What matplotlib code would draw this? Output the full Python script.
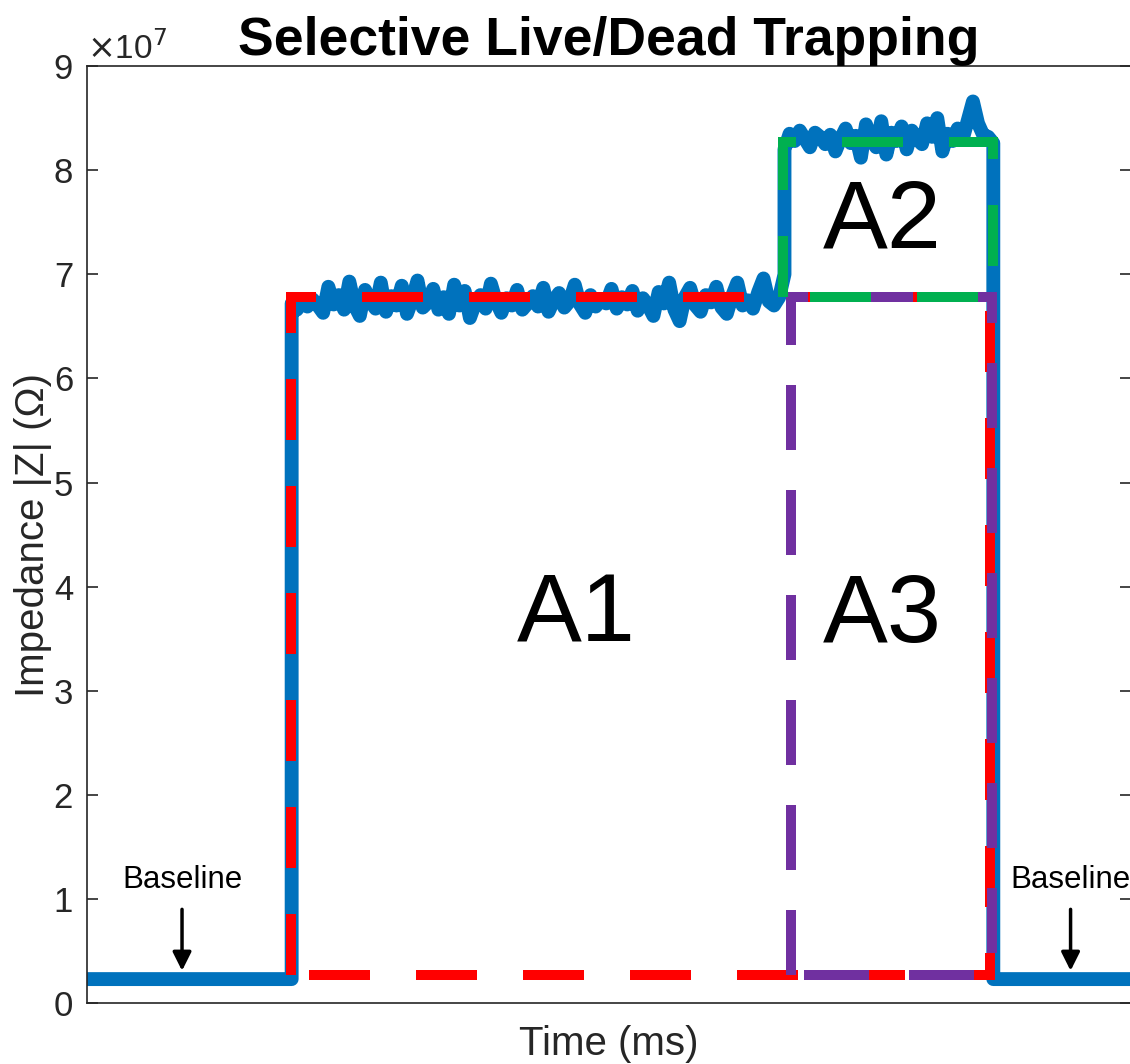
import numpy as np
import matplotlib.pyplot as plt

plt.rcParams['font.family'] = ['Liberation Sans', 'DejaVu Sans']

# impedance in units of 1e7 ohm, time in ms
t_on = 1.96      # cell enters trap
t_step = 6.68    # second cell arrives
t_off = 8.68     # trap released
t_end = 10.0
baseline = 0.23

# sampled |Z| while one cell is trapped
plateau1 = [6.72, 6.66, 6.74, 6.69, 6.76, 6.70, 6.63, 6.88, 6.71, 6.80, 6.66, 6.93,
            6.70, 6.60, 6.85, 6.74, 6.67, 6.92, 6.64, 6.79, 6.70, 6.89, 6.62, 6.76,
            6.94, 6.68, 6.73, 6.86, 6.66, 6.78, 6.62, 6.90, 6.70, 6.84, 6.58, 6.72,
            6.80, 6.67, 6.91, 6.74, 6.63, 6.77, 6.70, 6.85, 6.66, 6.72, 6.79, 6.69,
            6.87, 6.64, 6.75, 6.82, 6.68, 6.74, 6.90, 6.71, 6.63, 6.80, 6.69, 6.76,
            6.72, 6.86, 6.67, 6.78, 6.71, 6.84, 6.65, 6.77, 6.70, 6.60, 6.83, 6.72,
            6.92, 6.66, 6.55, 6.78, 6.87, 6.70, 6.64, 6.80, 6.73, 6.88, 6.68, 6.62,
            6.79, 6.92, 6.70, 6.75, 6.67, 6.83, 6.96, 6.74, 6.70, 6.78, 7.00]
# sampled |Z| with two cells trapped
plateau2 = [8.20, 8.35, 8.28, 8.38, 8.30, 8.22, 8.36, 8.32, 8.25, 8.34, 8.18, 8.30,
            8.40, 8.26, 8.33, 8.12, 8.44, 8.30, 8.22, 8.47, 8.15, 8.36, 8.28, 8.42,
            8.20, 8.38, 8.30, 8.25, 8.45, 8.32, 8.50, 8.18, 8.35, 8.28, 8.40, 8.30,
            8.48, 8.66, 8.45, 8.34, 8.32, 8.26]

# fitted rectangles
a1_x = [1.95, 8.65]
a1_y = [0.27, 6.78]
a3_x = [6.74, 8.67]
a3_y = [0.27, 6.78]
a2_x = [6.67, 8.68]
a2_y = [6.78, 8.27]

x1 = np.linspace(t_on, t_step, len(plateau1))
x2 = np.linspace(t_step, t_off, len(plateau2))
t = np.concatenate([[0, t_on], x1, x2, [t_off, t_end]])
z = np.concatenate([[baseline, baseline], plateau1, plateau2, [baseline, baseline]])

fig = plt.figure(figsize=(11.3, 10.64), dpi=100)
ax = fig.add_axes([0.077, 0.0573, 0.924, 0.8806])

ax.plot(t, z, color='#0072BD', lw=10, solid_joinstyle='round', solid_capstyle='round')


def rect(xs, ys, color, dashes):
    x0, x1 = xs
    y0, y1 = ys
    ax.plot([x0, x0, x1, x1, x0], [y0, y1, y1, y0, y0], color=color, lw=7.2,
            dashes=dashes, dash_capstyle='butt', dash_joinstyle='miter')


rect(a1_x, a1_y, '#FF0000', (6.1, 4.6))
rect(a3_x, a3_y, '#7030A0', (6.5, 4.0))
rect(a2_x, a2_y, '#00B050', (6.1, 4.6))

ax.text(4.69, 3.71, 'A1', fontsize=70, ha='center', va='center')
ax.text(7.62, 3.71, 'A3', fontsize=70, ha='center', va='center')
ax.text(7.62, 7.50, 'A2', fontsize=70, ha='center', va='center')

for xb in [0.91, 9.42]:
    ax.annotate('', xy=(xb, 0.31), xytext=(xb, 0.90),
                arrowprops=dict(arrowstyle='-|>', color='black', lw=2.5,
                                mutation_scale=28, shrinkA=0, shrinkB=0))
    ax.text(xb, 1.18, 'Baseline', fontsize=22.5, ha='center', va='center')

ax.set_xlim(0, t_end)
ax.set_ylim(0, 9)
ax.set_xticks([])
ax.set_yticks(range(10))
ax.tick_params(axis='y', direction='in', length=8, width=1.2, labelsize=25,
               labelcolor='#262626', color='#262626', right=True, pad=10)
for s in ax.spines.values():
    s.set_color('#262626')
    s.set_linewidth(1.2)

ax.text(0.0, 1.0, r'$\times$10$^7$', transform=ax.transAxes, fontsize=24,
        color='#262626', ha='left', va='bottom')
ax.set_title('Selective Live/Dead Trapping', fontsize=38.5, fontweight='bold', pad=8)
ax.set_xlabel('Time (ms)', fontsize=29, color='#262626', labelpad=16)
ax.set_ylabel('Impedance |Z| (\u03a9)', fontsize=29, color='#262626', labelpad=1)

fig.savefig('out.png', dpi=100)
